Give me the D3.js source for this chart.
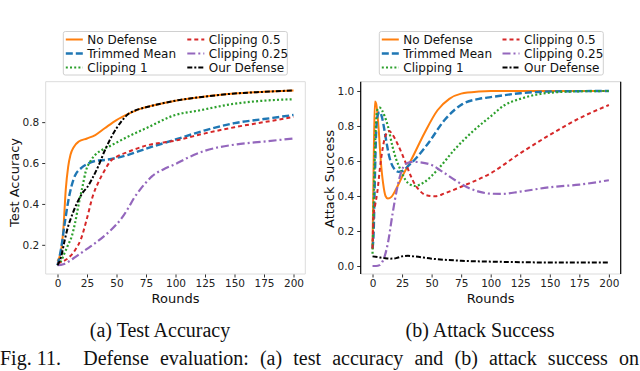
<!DOCTYPE html>
<html>
<head>
<meta charset="utf-8">
<script src="https://cdn.jsdelivr.net/npm/d3@7"></script>
<style>
  body { margin: 0; background: #fff; }
  svg { display: block; }
  .tick text { font-family: "DejaVu Sans", sans-serif; font-size: 10.5px; fill: #222; }
  .tick line { stroke: #333; }
  .axis-title { font-family: "DejaVu Sans", sans-serif; font-size: 13px; fill: #111; }
  .legend text { font-family: "DejaVu Sans", sans-serif; font-size: 12px; fill: #111; }
  .caption { font-family: "Liberation Serif", "Times New Roman", serif; font-size: 20px; fill: #111; }
</style>
</head>
<body>
<script>
// series names, in plotting order
var names = ["No Defense", "Trimmed Mean", "Clipping 1", "Clipping 0.5", "Clipping 0.25", "Our Defense"];
var colors = ["#ff7f0e", "#1f77b4", "#2ca02c", "#d62728", "#9467bd", "#000000"];
var xTicks = [0, 25, 50, 75, 100, 125, 150, 175, 200];
var accTicks = [0.2, 0.4, 0.6, 0.8];
var atkTicks = [0.0, 0.2, 0.4, 0.6, 0.8, 1.0];

// (a) test accuracy, [round, value]
var accNoDefense = [[0,0.12],[3,0.17],[5,0.28],[7,0.47],[9,0.58],[11,0.64],[14,0.68],[18,0.705],[25,0.72],[32,0.737],[40,0.77],[50,0.81],[60,0.84],[70,0.865],[80,0.88],[100,0.905],[125,0.925],[150,0.94],[175,0.948],[200,0.955]];
var accTrimmed = [[0,0.10],[3,0.18],[6,0.30],[9,0.41],[12,0.49],[15,0.54],[20,0.575],[25,0.595],[32,0.61],[40,0.615],[50,0.625],[60,0.64],[75,0.67],[100,0.715],[125,0.76],[150,0.795],[175,0.815],[200,0.835]];
var accClip1 = [[0,0.10],[3,0.12],[6,0.16],[9,0.2],[12,0.24],[15,0.31],[18,0.4],[21,0.48],[24,0.56],[28,0.61],[32,0.64],[38,0.665],[45,0.685],[60,0.73],[75,0.77],[100,0.835],[120,0.857],[150,0.89],[175,0.905],[200,0.912]];
var accClip05 = [[0,0.11],[5,0.12],[10,0.14],[15,0.175],[20,0.23],[25,0.33],[30,0.44],[35,0.51],[40,0.565],[45,0.61],[50,0.63],[60,0.655],[75,0.685],[100,0.71],[125,0.745],[150,0.775],[175,0.8],[200,0.825]];
var accClip025 = [[0,0.10],[5,0.105],[10,0.12],[15,0.14],[20,0.16],[25,0.18],[30,0.2],[40,0.245],[50,0.3],[55,0.335],[60,0.38],[65,0.43],[70,0.47],[75,0.505],[80,0.535],[90,0.57],[100,0.595],[110,0.625],[125,0.66],[150,0.69],[175,0.705],[200,0.72]];
var accOurs = [[0,0.10],[3,0.14],[6,0.22],[9,0.29],[12,0.34],[17,0.41],[22,0.46],[25,0.48],[30,0.53],[35,0.59],[40,0.66],[45,0.72],[50,0.77],[55,0.81],[60,0.84],[65,0.855],[70,0.865],[80,0.88],[100,0.905],[125,0.925],[150,0.94],[175,0.948],[200,0.955]];

// (b) attack success, [round, value]
var atkNoDefense = [[0,0.1],[1,0.6],[2,0.94],[3,0.93],[5,0.8],[7,0.6],[9,0.47],[11,0.4],[13,0.385],[16,0.395],[20,0.44],[25,0.51],[33,0.61],[44,0.76],[55,0.89],[65,0.955],[75,0.985],[90,0.997],[100,1.0],[200,1.0]];
var atkTrimmed = [[0,0.1],[1,0.2],[2,0.5],[3,0.75],[4,0.85],[6,0.88],[8,0.85],[10,0.78],[12,0.7],[14,0.63],[16,0.585],[19,0.55],[22,0.538],[26,0.545],[30,0.57],[36,0.61],[47,0.7],[61,0.834],[76,0.925],[90,0.955],[100,0.965],[125,0.987],[150,0.997],[200,1.0]];
var atkClip1 = [[0,0.07],[1,0.35],[2,0.65],[3,0.82],[4,0.89],[6,0.905],[8,0.89],[10,0.86],[13,0.8],[17,0.68],[20,0.61],[23,0.56],[28,0.49],[32,0.465],[36,0.457],[40,0.465],[44,0.48],[55,0.55],[70,0.67],[85,0.77],[100,0.855],[112,0.92],[125,0.955],[150,0.99],[175,0.998],[200,1.0]];
var atkClip05 = [[0,0.1],[1,0.3],[2,0.34],[4,0.42],[7,0.6],[10,0.72],[12,0.76],[14,0.772],[17,0.75],[21,0.7],[25,0.64],[28,0.59],[32,0.52],[36,0.465],[40,0.43],[45,0.405],[53,0.398],[61,0.415],[75,0.453],[100,0.53],[125,0.644],[150,0.749],[175,0.844],[200,0.92]];
var atkClip025 = [[0,0.0],[3,0.0],[6,0.005],[8,0.02],[10,0.05],[13,0.13],[17,0.3],[21,0.45],[25,0.55],[30,0.59],[35,0.595],[40,0.593],[50,0.577],[60,0.535],[70,0.49],[80,0.45],[90,0.425],[100,0.413],[110,0.412],[125,0.425],[150,0.45],[175,0.465],[200,0.49]];
var atkOurs = [[0,0.055],[5,0.05],[10,0.045],[15,0.042],[20,0.045],[25,0.055],[30,0.058],[35,0.055],[50,0.042],[75,0.03],[100,0.025],[125,0.022],[150,0.02],[200,0.02]];

// line styles per series
var widths = [2, 2.4, 2.2, 2, 2.2, 2];
var dashes = [null, "7,3", "2,2.2", "4,3", "8,3,2,3", "5,2,2,2"];

var W = 640, H = 371;
var svg = d3.select("body").append("svg")
  .attr("width", W)
  .attr("height", H);

function drawPanel(opts) {
  var x = d3.scaleLinear().domain([-10, 210]).range([opts.left, opts.right]);
  var y = d3.scaleLinear().domain(opts.yDomain).range([opts.bottom, opts.top]);
  var g = svg.append("g");

  // axes
  g.append("g")
    .attr("transform", "translate(0," + opts.bottom + ")")
    .call(d3.axisBottom(x).tickValues(xTicks).tickSize(3.5).tickPadding(2.5).tickFormat(d3.format("d")))
    .call(function(a) { a.select(".domain").remove(); });
  g.append("g")
    .attr("transform", "translate(" + opts.left + ",0)")
    .call(d3.axisLeft(y).tickValues(opts.yTicks).tickSize(3.5).tickPadding(3).tickFormat(d3.format(".1f")))
    .call(function(a) { a.select(".domain").remove(); });

  // spines
  var sp = [
    [opts.left, opts.top, opts.right, opts.top, "#dcdcdc"],
    [opts.left, opts.bottom, opts.right, opts.bottom, "#dcdcdc"],
    [opts.left, opts.top, opts.left, opts.bottom, opts.sideColor],
    [opts.right, opts.top, opts.right, opts.bottom, opts.sideColor]
  ];
  sp.forEach(function(s) {
    g.append("line")
      .attr("x1", s[0]).attr("y1", s[1]).attr("x2", s[2]).attr("y2", s[3])
      .attr("stroke", s[4]).attr("stroke-width", opts.sideColor === "#000" ? 1.2 : 1);
  });

  var line = d3.line()
    .x(function(d) { return x(d[0]); })
    .y(function(d) { return y(d[1]); })
    .curve(d3.curveMonotoneX);

  opts.series.forEach(function(s, i) {
    g.append("path")
      .datum(s)
      .attr("d", line)
      .attr("fill", "none")
      .attr("stroke", colors[i])
      .attr("stroke-width", widths[i])
      .attr("stroke-dasharray", dashes[i]);
  });

  // axis titles
  g.append("text")
    .attr("class", "axis-title")
    .attr("x", (opts.left + opts.right) / 2)
    .attr("y", 302.5)
    .attr("text-anchor", "middle")
    .text("Rounds");
  g.append("text")
    .attr("class", "axis-title")
    .attr("transform", "translate(" + opts.yLabelX + "," + opts.yLabelY + ") rotate(-90)")
    .attr("text-anchor", "middle")
    .text(opts.yLabel);

  // legend
  var lg = g.append("g").attr("class", "legend");
  lg.append("rect")
    .attr("x", opts.legX).attr("y", 31.5)
    .attr("width", opts.legW).attr("height", 43.5)
    .attr("rx", 2)
    .attr("fill", "#fff")
    .attr("stroke", "#d0d0d0");
  names.forEach(function(n, i) {
    var col = Math.floor(i / 3), row = i % 3;
    var hx = opts.legX + 2.5 + col * opts.colGap;
    var hy = 39.5 + row * 14;
    lg.append("line")
      .attr("x1", hx).attr("x2", hx + 17)
      .attr("y1", hy).attr("y2", hy)
      .attr("stroke", colors[i])
      .attr("stroke-width", widths[i])
      .attr("stroke-dasharray", dashes[i]);
    lg.append("text")
      .attr("x", hx + 21.5)
      .attr("y", hy)
      .attr("dy", "0.35em")
      .text(n);
  });
}

drawPanel({
  left: 45.7, right: 305.3, top: 81.7, bottom: 274,
  yDomain: [0.0573, 0.9977], yTicks: accTicks,
  series: [accNoDefense, accTrimmed, accClip1, accClip05, accClip025, accOurs],
  sideColor: "#dcdcdc",
  yLabel: "Test Accuracy", yLabelX: 18.5, yLabelY: 182.5,
  legX: 63.3, legW: 224, colGap: 121.5
});

drawPanel({
  left: 360.7, right: 620.7, top: 81.7, bottom: 274,
  yDomain: [-0.0457, 1.053], yTicks: atkTicks,
  series: [atkNoDefense, atkTrimmed, atkClip1, atkClip05, atkClip025, atkOurs],
  sideColor: "#000",
  yLabel: "Attack Success", yLabelX: 334, yLabelY: 179,
  legX: 379.3, legW: 224, colGap: 120.7
});

// sub captions
svg.append("text").attr("class", "caption")
  .attr("x", 160).attr("y", 336.5).attr("text-anchor", "middle")
  .text("(a) Test Accuracy");
svg.append("text").attr("class", "caption")
  .attr("x", 480).attr("y", 336.5).attr("text-anchor", "middle")
  .text("(b) Attack Success");

// justified figure caption line
var figWords = ["Fig. 11.", "Defense", "evaluation:", "(a)", "test", "accuracy", "and", "(b)", "attack", "success", "on"];
var cap = svg.append("g");
var wsum = 0;
var nodes = figWords.map(function(w) {
  var t = cap.append("text").attr("class", "caption").attr("y", 365).text(w);
  var wd = t.node().getComputedTextLength();
  wsum += wd;
  return { t: t, w: wd };
});
// first gap is double width
var gap = (W - 1 - wsum) / (figWords.length);
var cx = 0;
nodes.forEach(function(n, i) {
  n.t.attr("x", cx);
  cx += n.w + (i === 0 ? 2 * gap : gap);
});
</script>
</body>
</html>
